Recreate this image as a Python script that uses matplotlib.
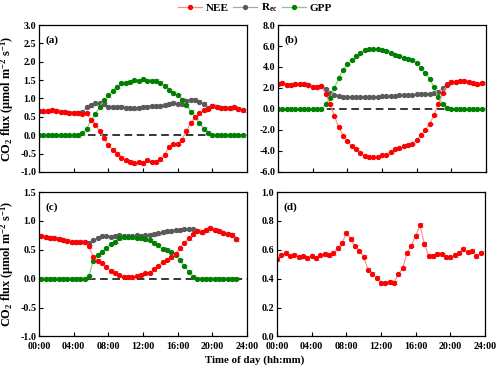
import matplotlib
matplotlib.use("Agg")
import matplotlib.pyplot as plt
from matplotlib.lines import Line2D

plt.rcParams['font.family'] = ['Liberation Serif', 'DejaVu Serif']
plt.rcParams['font.weight'] = 'bold'
plt.rcParams['mathtext.fontset'] = 'custom'
plt.rcParams['mathtext.rm'] = 'Liberation Serif:bold'
plt.rcParams['mathtext.it'] = 'Liberation Serif:bold'
plt.rcParams['mathtext.bf'] = 'Liberation Serif:bold'

# ---------------- data ----------------
time_full = [0.5 * k for k in range(48)]          # 00:00 .. 23:30
time_c = [0.25 + 0.5 * k for k in range(46)]      # panel (c) sampling

nee_a = [0.67, 0.65, 0.67, 0.68, 0.66, 0.64, 0.62, 0.61, 0.61, 0.59, 0.58, 0.60,
         0.40, 0.28, 0.10, -0.09, -0.27, -0.40, -0.51, -0.62, -0.68, -0.73, -0.77, -0.74,
         -0.77, -0.69, -0.73, -0.73, -0.66, -0.53, -0.32, -0.25, -0.24, -0.12, 0.12, 0.34,
         0.49, 0.60, 0.68, 0.72, 0.80, 0.77, 0.75, 0.75, 0.73, 0.76, 0.72, 0.68]
reco_a = [0.67, 0.65, 0.67, 0.68, 0.66, 0.64, 0.62, 0.61, 0.61, 0.59, 0.62, 0.77,
          0.82, 0.87, 0.88, 0.84, 0.78, 0.76, 0.77, 0.77, 0.75, 0.73, 0.73, 0.75,
          0.77, 0.77, 0.79, 0.79, 0.80, 0.82, 0.85, 0.88, 0.86, 0.86, 0.94, 0.97,
          0.97, 0.91, 0.86, 0.73, 0.80, 0.77, 0.75, 0.75, 0.73, 0.76, 0.72, 0.68]
gpp_a = [0, 0, 0, 0, 0, 0, 0, 0, 0, 0, 0.05, 0.18,
         0.40, 0.57, 0.77, 0.95, 1.09, 1.21, 1.32, 1.41, 1.43, 1.45, 1.50, 1.48,
         1.52, 1.48, 1.48, 1.48, 1.43, 1.34, 1.23, 1.14, 1.09, 0.97, 0.82, 0.64,
         0.50, 0.32, 0.18, 0.06, 0, 0, 0, 0, 0, 0, 0, 0]

nee_b = [2.37, 2.45, 2.30, 2.28, 2.40, 2.42, 2.35, 2.25, 2.12, 2.10, 2.15, 1.45,
         0.50, -0.65, -1.75, -2.55, -3.10, -3.55, -3.85, -4.20, -4.50, -4.55, -4.58, -4.55,
         -4.40, -4.35, -4.10, -3.85, -3.75, -3.55, -3.45, -3.30, -2.95, -2.50, -2.00, -1.40,
         -0.60, 0.50, 1.55, 2.30, 2.55, 2.60, 2.62, 2.68, 2.55, 2.50, 2.40, 2.45]
reco_b = [2.37, 2.45, 2.30, 2.28, 2.40, 2.42, 2.35, 2.25, 2.12, 2.10, 2.15, 1.90,
          1.55, 1.30, 1.20, 1.15, 1.12, 1.12, 1.12, 1.12, 1.15, 1.15, 1.17, 1.17,
          1.20, 1.20, 1.25, 1.28, 1.30, 1.32, 1.35, 1.37, 1.38, 1.40, 1.42, 1.45,
          1.50, 1.65, 2.00, 2.35, 2.55, 2.60, 2.62, 2.68, 2.55, 2.50, 2.40, 2.45]
gpp_b = [0, 0, 0, 0, 0, 0, 0, 0, 0, 0, 0.02, 0.45,
         1.05, 1.95, 2.95, 3.70, 4.25, 4.65, 5.00, 5.35, 5.65, 5.72, 5.75, 5.75,
         5.60, 5.55, 5.35, 5.15, 5.05, 4.90, 4.80, 4.65, 4.35, 3.90, 3.40, 2.85,
         2.10, 1.10, 0.45, 0.10, 0, 0, 0, 0, 0, 0, 0, 0]

nee_c = [0.74, 0.72, 0.71, 0.70, 0.69, 0.67, 0.66, 0.63, 0.63, 0.64, 0.63, 0.56,
         0.38, 0.31, 0.27, 0.21, 0.14, 0.10, 0.06, 0.03, 0.03, 0.02, 0.05, 0.07,
         0.09, 0.10, 0.16, 0.22, 0.28, 0.33, 0.37, 0.43, 0.53, 0.62, 0.70, 0.77,
         0.83, 0.80, 0.84, 0.87, 0.85, 0.82, 0.79, 0.77, 0.76, 0.68]
reco_c = [0.74, 0.72, 0.71, 0.70, 0.69, 0.67, 0.66, 0.63, 0.63, 0.64, 0.63, 0.61,
          0.67, 0.71, 0.74, 0.74, 0.73, 0.74, 0.75, 0.74, 0.74, 0.74, 0.75, 0.74,
          0.75, 0.76, 0.77, 0.79, 0.80, 0.82, 0.83, 0.84, 0.85, 0.86, 0.86, 0.86,
          0.83, 0.80, 0.84, 0.87, 0.85, 0.82, 0.79, 0.77, 0.76, 0.68]
gpp_c = [0, 0, 0, 0, 0, 0, 0, 0, 0, 0, 0, 0.04,
         0.31, 0.41, 0.47, 0.53, 0.60, 0.64, 0.70, 0.72, 0.72, 0.72, 0.71, 0.70,
         0.68, 0.67, 0.62, 0.58, 0.52, 0.50, 0.46, 0.41, 0.32, 0.22, 0.12, 0.03,
         0, 0, 0, 0, 0, 0, 0, 0, 0, 0]

ratio_d = [0.535, 0.566, 0.577, 0.559, 0.566, 0.550, 0.554, 0.543, 0.559, 0.543, 0.561, 0.572,
           0.561, 0.577, 0.611, 0.646, 0.715, 0.674, 0.623, 0.589, 0.552, 0.463, 0.433, 0.406,
           0.368, 0.372, 0.377, 0.373, 0.430, 0.472, 0.577, 0.628, 0.697, 0.772, 0.641, 0.557,
           0.557, 0.570, 0.568, 0.548, 0.548, 0.564, 0.580, 0.605, 0.583, 0.595, 0.555, 0.580]

err_a, err_b, err_c, err_d = 0.04, 0.08, 0.025, 0.012

xticks = [0, 4, 8, 12, 16, 20, 24]
xticklabels = ["00:00", "04:00", "08:00", "12:00", "16:00", "20:00", "24:00"]

# ---------------- style ----------------
c_nee, l_nee = '#ff0000', '#ff8a8a'
c_reco, l_reco = '#5a5a5a', '#a8a8a8'
c_gpp, l_gpp = '#008000', '#7fcf7f'
c_err = '#a8a8a8'
MS = 2.8

fig = plt.figure(figsize=(5.0, 3.68), dpi=100)
pos = {
    'a': [0.078, 0.533, 0.416, 0.399],
    'b': [0.556, 0.533, 0.416, 0.399],
    'c': [0.078, 0.086, 0.416, 0.392],
    'd': [0.554, 0.086, 0.416, 0.392],
}

def series(ax, t, y, err, mc, lc):
    ax.errorbar(t, y, yerr=err, fmt='none', ecolor=c_err, elinewidth=0.8,
                capsize=1.8, capthick=0.8, zorder=1)
    ax.plot(t, y, '-', color=lc, lw=0.8, zorder=2,
            marker='o', ms=MS, mfc=mc, mec=mc)

def style(ax, ylim, yticks, letter, showx):
    ax.set_xlim(0, 24)
    ax.set_ylim(*ylim)
    ax.set_xticks(xticks)
    ax.set_xticklabels(xticklabels if showx else [])
    ax.set_yticks(yticks)
    ax.set_yticklabels(['{:.1f}'.format(v) for v in yticks])
    ax.tick_params(direction='in', length=3, width=0.8, labelsize=7.2,
                   top=False, right=False)
    ax.tick_params(axis='x', pad=4)
    ax.tick_params(axis='y', pad=2)
    for lab in ax.get_xticklabels() + ax.get_yticklabels():
        lab.set_fontweight('bold')
    for s in ax.spines.values():
        s.set_linewidth(0.9)
    ax.text(0.03, 0.93, letter, transform=ax.transAxes, fontsize=8,
            fontweight='bold', va='top', ha='left')

ylab = r'CO$_2$ flux ($\mathregular{\mu}$mol m$^{-2}$ s$^{-1}$)'

ax = fig.add_axes(pos['a'])
ax.axhline(0, color='black', ls=(0, (5, 3)), lw=1.1, zorder=0)
series(ax, time_full, reco_a, err_a, c_reco, l_reco)
series(ax, time_full, gpp_a, err_a, c_gpp, l_gpp)
series(ax, time_full, nee_a, err_a, c_nee, l_nee)
style(ax, (-1.0, 3.0), [-1.0, -0.5, 0.0, 0.5, 1.0, 1.5, 2.0, 2.5, 3.0], '(a)', False)
ax.set_ylabel(ylab, fontsize=8.8, fontweight='bold', labelpad=3)

ax = fig.add_axes(pos['b'])
ax.axhline(0, color='black', ls=(0, (5, 3)), lw=1.1, zorder=0)
series(ax, time_full, reco_b, err_b, c_reco, l_reco)
series(ax, time_full, gpp_b, err_b, c_gpp, l_gpp)
series(ax, time_full, nee_b, err_b, c_nee, l_nee)
style(ax, (-6.0, 8.0), [-6.0, -4.0, -2.0, 0.0, 2.0, 4.0, 6.0, 8.0], '(b)', False)

ax = fig.add_axes(pos['c'])
ax.axhline(0, color='black', ls=(0, (5, 3)), lw=1.1, zorder=0)
series(ax, time_c, reco_c, err_c, c_reco, l_reco)
series(ax, time_c, gpp_c, err_c, c_gpp, l_gpp)
series(ax, time_c, nee_c, err_c, c_nee, l_nee)
style(ax, (-1.0, 1.5), [-1.0, -0.5, 0.0, 0.5, 1.0, 1.5], '(c)', True)
ax.set_ylabel(ylab, fontsize=8.8, fontweight='bold', labelpad=3)

ax = fig.add_axes(pos['d'])
series(ax, time_full, ratio_d, err_d, c_nee, l_nee)
style(ax, (0.0, 1.0), [0.0, 0.2, 0.4, 0.6, 0.8, 1.0], '(d)', True)

fig.text(0.51, 0.022, 'Time of day (hh:mm)', ha='center', va='center',
         fontsize=7.8, fontweight='bold')

handles = [
    Line2D([], [], color=l_nee, lw=0.9, marker='o', ms=MS, mfc=c_nee, mec=c_nee),
    Line2D([], [], color=l_reco, lw=0.9, marker='o', ms=MS, mfc=c_reco, mec=c_reco),
    Line2D([], [], color=l_gpp, lw=0.9, marker='o', ms=MS, mfc=c_gpp, mec=c_gpp),
]
leg = fig.legend(handles, ['NEE', 'R$_{ec}$', 'GPP'], loc='center',
                 bbox_to_anchor=(0.51, 0.978), ncol=3, frameon=False,
                 fontsize=8, handlelength=2.2, handletextpad=0.3,
                 columnspacing=0.4, borderpad=0.1)
for t in leg.get_texts():
    t.set_fontweight('bold')

fig.savefig('out.png', dpi=100)
